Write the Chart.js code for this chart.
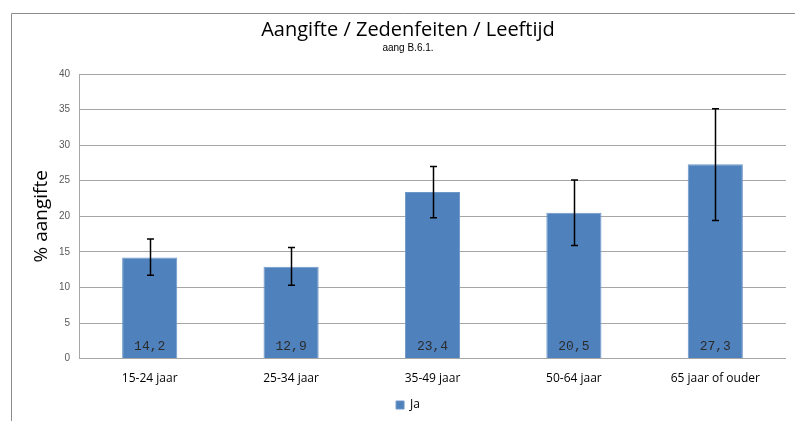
<!DOCTYPE html>
<html>
<head>
<meta charset="utf-8">
<script src="https://cdn.jsdelivr.net/npm/chart.js@4/dist/chart.umd.min.js"></script>
<style>
  html, body { margin: 0; padding: 0; background: #fff; }
  #wrap { position: relative; width: 795px; height: 421px; }
</style>
</head>
<body>
<div id="wrap"><canvas id="myBarChart" width="795" height="421"></canvas></div>
<script>
var categories = ["15-24 jaar", "25-34 jaar", "35-49 jaar", "50-64 jaar", "65 jaar of ouder"];
var jaValues = [14.2, 12.9, 23.4, 20.5, 27.3];
var errLow = [11.7, 10.3, 19.8, 15.9, 19.4];
var errHigh = [16.8, 15.6, 27.0, 25.1, 35.1];
var yTicks = [0, 5, 10, 15, 20, 25, 30, 35, 40];

// outer frame of the chart (cut off at right and bottom like the original)
var framePlugin = {
  id: "frame",
  beforeDraw: function (chart) {
    var ctx = chart.ctx;
    ctx.save();
    ctx.fillStyle = "#fff";
    ctx.fillRect(0, 0, chart.width, chart.height);
    ctx.strokeStyle = "#8c8c8c";
    ctx.lineWidth = 1;
    ctx.beginPath();
    ctx.moveTo(11.5, chart.height);
    ctx.lineTo(11.5, 13.5);
    ctx.lineTo(chart.width, 13.5);
    ctx.stroke();
    ctx.restore();
  }
};

// error bars + value labels inside the bars
var extrasPlugin = {
  id: "extras",
  afterDatasetsDraw: function (chart) {
    var ctx = chart.ctx;
    var meta = chart.getDatasetMeta(0);
    var y = chart.scales.y;
    ctx.save();
    // labels
    ctx.font = "13px 'Liberation Mono', 'DejaVu Sans Mono', monospace";
    ctx.fillStyle = "#2b2b2b";
    ctx.textAlign = "center";
    ctx.textBaseline = "middle";
    for (var i = 0; i < meta.data.length; i++) {
      var bar = meta.data[i];
      ctx.fillText(jaValues[i].toFixed(1).replace(".", ","), bar.x, y.getPixelForValue(0) - 12);
    }
    // error bars
    ctx.strokeStyle = "#000";
    ctx.lineWidth = 1.5;
    for (var i = 0; i < meta.data.length; i++) {
      var x = Math.round(meta.data[i].x) + 0.5;
      var top = y.getPixelForValue(errHigh[i]);
      var bot = y.getPixelForValue(errLow[i]);
      ctx.beginPath();
      ctx.moveTo(x, top);
      ctx.lineTo(x, bot);
      ctx.moveTo(x - 3.5, top);
      ctx.lineTo(x + 3.5, top);
      ctx.moveTo(x - 3.5, bot);
      ctx.lineTo(x + 3.5, bot);
      ctx.stroke();
    }
    ctx.restore();
  }
};

var ctx = document.getElementById("myBarChart").getContext("2d");
var myBarChart = new Chart(ctx, {
  type: "bar",
  data: {
    labels: categories,
    datasets: [
      {
        label: "Ja",
        data: jaValues,
        backgroundColor: "#4f81bd",
        borderColor: "#6f97c8",
        borderWidth: 1,
        barPercentage: 0.39,
        categoryPercentage: 1.0,
      },
    ],
  },
  options: {
    responsive: false,
    animation: false,
    layout: {
      padding: { left: 30, right: 9, top: 19, bottom: 0 },
    },
    plugins: {
      title: {
        display: true,
        text: "Aangifte / Zedenfeiten / Leeftijd",
        color: "#000",
        font: { family: "'Open Sans', sans-serif", size: 20, weight: "normal", lineHeight: 0.9 },
        padding: { top: 2, bottom: 4 },
      },
      subtitle: {
        display: true,
        text: "aang B.6.1.",
        color: "#000",
        font: { family: "'Liberation Sans', Arial, sans-serif", size: 10, lineHeight: 1.0 },
        padding: { top: 0, bottom: 21 },
      },
      legend: {
        position: "bottom",
        labels: {
          color: "#000",
          boxWidth: 8,
          boxHeight: 8,
          padding: 8,
          font: { family: "'Open Sans', sans-serif", size: 12 },
        },
      },
      tooltip: { enabled: false },
    },
    scales: {
      x: {
        grid: { display: false },
        border: { display: false },
        ticks: {
          color: "#000",
          font: { family: "'Open Sans', sans-serif", size: 12 },
          padding: 5,
        },
      },
      y: {
        min: 0,
        max: 40,
        afterBuildTicks: function (scale) {
          scale.ticks = yTicks.map(function (v) { return { value: v }; });
        },
        afterFit: function (scale) {
          scale.width = 49;
        },
        grid: { color: "#a6a6a6", lineWidth: 1, drawTicks: false },
        border: { display: true, color: "#a6a6a6" },
        ticks: {
          color: "#595959",
          padding: 9,
          font: { family: "'Liberation Sans', Arial, sans-serif", size: 10 },
        },
        title: {
          display: true,
          text: "% aangifte",
          color: "#000",
          padding: { top: 0, bottom: 4 },
          font: { family: "'Open Sans', sans-serif", size: 19 },
        },
      },
    },
  },
  plugins: [framePlugin, extrasPlugin],
});
</script>
</body>
</html>
